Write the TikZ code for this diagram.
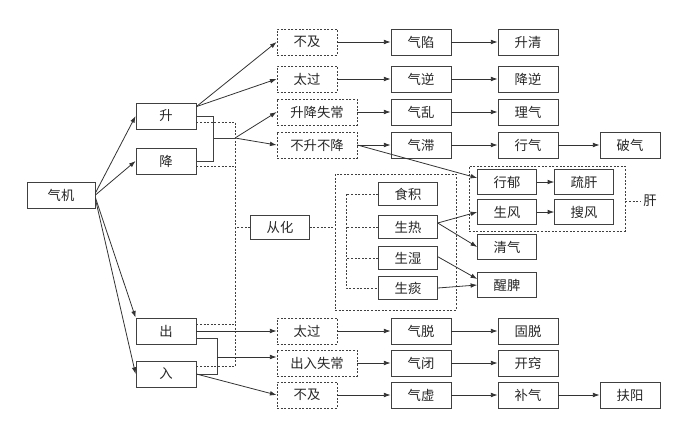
\documentclass[tikz,border=0pt]{standalone}
\usepackage{fontspec}
\setmainfont{Noto Sans CJK SC}
\usetikzlibrary{arrows.meta}
\begin{document}
\begin{tikzpicture}[x=0.75pt,y=-0.75pt,
 box/.style={draw=black!75, line width=0.6pt, minimum width=45pt, minimum height=19.5pt, inner sep=0pt, font=\fontsize{10}{12}\selectfont, text=black!85},
 dbox/.style={box, dash pattern=on 1.5pt off 1.2pt},
 wide/.style={minimum width=60pt},
 sm/.style={box, minimum width=44pt, minimum height=17.5pt},
 md/.style={box, minimum width=44pt, minimum height=18.75pt},
 frame/.style={draw=black!75, line width=0.6pt, dash pattern=on 1.5pt off 1.2pt, inner sep=0pt},
 arr/.style={draw=black!80, line width=0.6pt, -{Latex[length=5pt,width=3.5pt]}},
 ln/.style={draw=black!75, line width=0.6pt},
 dl/.style={draw=black!75, line width=0.6pt, dash pattern=on 1.5pt off 1.2pt}]
\useasboundingbox (0,0) rectangle (682,436);
% column A
\node[box, minimum width=51pt] (qj) at (61,195) {气机};
\node[box] (sh) at (166,116) {升};
\node[box] (jg) at (166,161) {降};
\node[box] (ch) at (166,331) {出};
\node[box] (ru) at (166,374) {入};
% dashed column
\node[dbox] (bj1) at (307,42) {不及};
\node[dbox] (tg1) at (307,79) {太过};
\node[dbox,wide] (sjsc) at (317,112) {升降失常};
\node[dbox,wide] (bsbj) at (317,145) {不升不降};
\node[dbox] (tg2) at (307,331) {太过};
\node[dbox,wide] (crsc) at (317,363) {出入失常};
\node[dbox] (bj2) at (307,395) {不及};
% column C
\node[box] (qx) at (421,42) {气陷};
\node[box] (qn) at (421,79) {气逆};
\node[box] (ql) at (421,112) {气乱};
\node[box] (qz) at (421,145) {气滞};
\node[box] (qt) at (421,331) {气脱};
\node[box] (qb) at (421,363) {气闭};
\node[box] (qxu) at (421,395) {气虚};
% column D
\node[box] (sq) at (528,42) {升清};
\node[box] (jn) at (528,79) {降逆};
\node[box] (lq) at (528,112) {理气};
\node[box] (xq) at (528,145) {行气};
\node[box] (gt) at (528,331) {固脱};
\node[box] (kq) at (528,363) {开窍};
\node[box] (bq) at (528,395) {补气};
% column E
\node[box] (pq) at (630,145) {破气};
\node[box] (fy) at (630,395) {扶阳};
% middle
\node[box, minimum width=44pt, minimum height=18pt] (ch2) at (280,227) {从化};
\node[frame, minimum width=90.75pt, minimum height=102pt] (big) at (395.5,242) {};
\node[sm] (sj) at (408,194) {食积};
\node[sm] (sr) at (408,227) {生热};
\node[sm] (ss) at (408,258) {生湿};
\node[sm] (st) at (408,288) {生痰};
\node[frame, minimum width=117pt, minimum height=48.75pt] (ganbox) at (547,198.5) {};
\node[md] (xy) at (507,182) {行郁};
\node[md] (sg) at (584,182) {疏肝};
\node[md] (sf) at (507,212) {生风};
\node[md] (souf) at (584,212) {搜风};
\node[md] (qq) at (507,247) {清气};
\node[md] (xp) at (507,285) {醒脾};
\node[inner sep=2pt, font=\fontsize{10}{12}\selectfont, text=black!85] (gan) at (650,201) {肝};
% connectors from 气机
\draw[arr] ([yshift=1.5pt]qj.east) -- (sh.west);
\draw[arr] (qj.east) -- (jg.west);
\draw[arr] ([yshift=-2pt]qj.east) -- (ch.north west);
\draw[arr] ([yshift=-3pt]qj.east) -- (ru.west);
% 升
\draw[arr] ([yshift=-3pt]sh.north east) -- (bj1.west);
\draw[arr] ([yshift=-3pt]sh.north east) -- (tg1.west);
\draw[ln] (sh.east) -- ++(17,0) |- (jg.east);
\coordinate (m1) at (213,138);
\coordinate (s1) at (235,138);
\draw[ln] (m1) -- (s1);
\draw[arr] (s1) -- (sjsc.west);
\draw[arr] (s1) -- (bsbj.west);
% dashed spine
\draw[dl] ([yshift=-4.5pt]sh.east) -- +(39,0) -- +(39,245);
\draw[dl] ([yshift=-3.75pt]jg.east) -- +(39,0);
\draw[dl] ([yshift=5.25pt]ch.east) -- +(39,0);
\draw[dl] ([yshift=6pt]ru.east) -- +(39,0);
\draw[dl] (ch2.west) -- +(-15,0);
\draw[dl] (ch2.east) -- (big.west |- ch2.east);
% 出 入
\draw[arr] (ch.east) -- (tg2.west);
\draw[ln] ([yshift=-5.25pt]ch.east) -- +(21,0) |- (ru.east);
\coordinate (m2) at (217,357);
\draw[arr] (m2) -- (m2 -| crsc.west);
\draw[arr] (ru.east) -- (bj2.west);
% chains
\draw[arr] (bj1.east) -- (qx.west);
\draw[arr] (qx.east) -- (sq.west);
\draw[arr] (tg1.east) -- (qn.west);
\draw[arr] (qn.east) -- (jn.west);
\draw[arr] (sjsc.east) -- (ql.west);
\draw[arr] (ql.east) -- (lq.west);
\draw[arr] (bsbj.east) -- (qz.west);
\draw[arr] (qz.east) -- (xq.west);
\draw[arr] (xq.east) -- (pq.west);
\draw[arr] (tg2.east) -- (qt.west);
\draw[arr] (qt.east) -- (gt.west);
\draw[arr] (crsc.east) -- (qb.west);
\draw[arr] (qb.east) -- (kq.west);
\draw[arr] (bj2.east) -- (qxu.west);
\draw[arr] (qxu.east) -- (bq.west);
\draw[arr] (bq.east) -- (fy.west);
% middle connectors
\coordinate (d1) at (346,194);
\draw[dl] (sj.west) -- (sj.west -| d1) -- (st.west -| d1) -- (st.west);
\draw[dl] (sr.west) -- (sr.west -| d1);
\draw[dl] (ss.west) -- (ss.west -| d1);
\draw[arr] (bsbj.east) -- ([yshift=3pt]xy.west);
\draw[arr] ([yshift=3pt]sr.east) -- (sf.west);
\draw[arr] ([yshift=3pt]sr.east) -- (qq.west);
\draw[arr] ([yshift=1pt]ss.east) -- ([yshift=4.5pt]xp.west);
\draw[arr] (st.east) -- (xp.west);
\draw[arr] (xy.east) -- (sg.west);
\draw[arr] (sf.east) -- (souf.west);
\draw[dl] (ganbox.east |- gan.west) -- (gan.west);
\end{tikzpicture}
\end{document}
